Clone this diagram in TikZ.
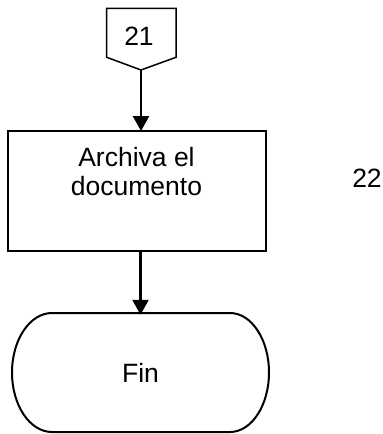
\documentclass[tikz,border=0pt]{standalone}
\usepackage{fontspec}
\setmainfont{Liberation Sans}
\usetikzlibrary{arrows.meta}
\begin{document}
\begin{tikzpicture}[x=1pt,y=1pt,
  every node/.style={inner sep=0pt,outer sep=0pt,font=\fontsize{26.5}{29}\selectfont},
  flowline/.style={line width=2.6pt,-{Triangle[width=16pt,length=15pt]}},
  procbox/.style={draw,line width=1.4pt,minimum width=258pt,minimum height=120pt}]
  \useasboundingbox (0,0) rectangle (383,-434);

  % off-page connector "21"
  \draw[line width=1.5pt,line join=miter]
    (106.7,-8.3) -- (176,-8.3) -- (176,-57.3) -- (141,-70) -- (106.7,-57.3) -- cycle;
  \node (c21) at (139,-36) {21};
  \coordinate (connTip) at (141,-70);

  % process box
  \node[procbox] (box) at (137,-191) {};
  \node[align=center] (boxlabel) at (136.5,-172) {Archiva el\\documento};

  % page reference
  \node (c22) at (367,-178.5) {22};

  % terminator
  \node[minimum width=257pt,minimum height=119.5pt] (fin) at (140.5,-372.5) {Fin};
  \draw[line width=2pt]
    (52,-313) -- (230,-313)
    arc[start angle=90,end angle=-90,x radius=39pt,y radius=59.5pt]
    -- (52,-432)
    arc[start angle=-90,end angle=-270,x radius=40pt,y radius=59.5pt]
    -- cycle;

  % connectors
  \draw[flowline] (connTip) -- (connTip |- box.north);
  \draw[flowline] (fin.north |- box.south) -- ([yshift=-2pt]fin.north);
\end{tikzpicture}
\end{document}
